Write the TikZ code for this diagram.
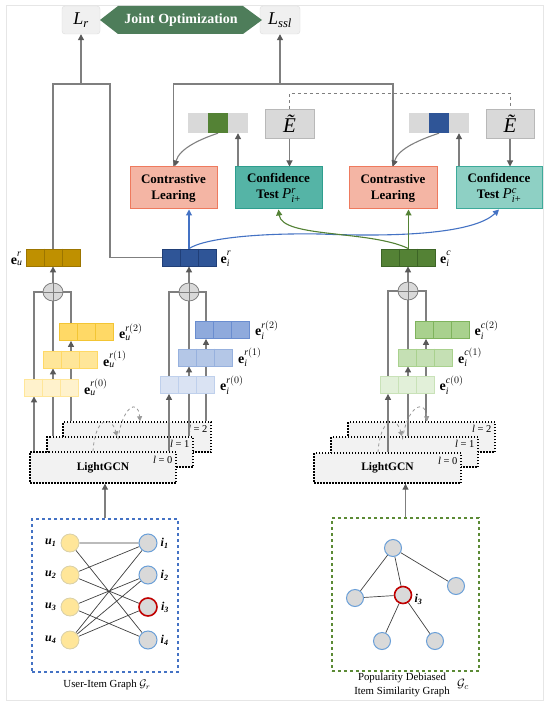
\documentclass[tikz,border=0pt]{standalone}
\usepackage{amsmath}
\usepackage{fontspec}
\setmainfont{Liberation Serif}
\usetikzlibrary{arrows.meta,calc,shapes.geometric}
\pgfdeclarelayer{lgcn}
\pgfdeclarelayer{bg}
\pgfsetlayers{lgcn,bg,main}

\definecolor{lineg}{HTML}{7F7F7F}
\definecolor{tipg}{HTML}{595959}
\definecolor{framec}{HTML}{E6E6E6}
\definecolor{clfill}{HTML}{F4B5A4}
\definecolor{clborder}{HTML}{EE7A5E}
\definecolor{ctafill}{HTML}{55B4A6}
\definecolor{ctaborder}{HTML}{2E9E8E}
\definecolor{ctbfill}{HTML}{8ED0C4}
\definecolor{ctbborder}{HTML}{3DAA9A}
\definecolor{jointc}{HTML}{4E7D5A}
\definecolor{lossfill}{HTML}{F0F0F0}
\definecolor{lossdraw}{HTML}{DDDDDD}
\definecolor{cellgray}{HTML}{D9D9D9}
\definecolor{goldF}{HTML}{BF9000}\definecolor{goldB}{HTML}{9C7500}
\definecolor{blueF}{HTML}{2F5597}\definecolor{blueB}{HTML}{203F78}
\definecolor{greenF}{HTML}{548235}\definecolor{greenB}{HTML}{3D6526}
\definecolor{ytwoF}{HTML}{FFD966}\definecolor{ytwoB}{HTML}{F3C534}
\definecolor{yoneF}{HTML}{FFE699}\definecolor{yoneB}{HTML}{FFD966}
\definecolor{yzeroF}{HTML}{FFF2CC}\definecolor{yzeroB}{HTML}{FFE699}
\definecolor{btwoF}{HTML}{8FAADC}\definecolor{btwoB}{HTML}{6A8DCF}
\definecolor{boneF}{HTML}{B4C7E7}\definecolor{boneB}{HTML}{97B1DE}
\definecolor{bzeroF}{HTML}{DAE3F3}\definecolor{bzeroB}{HTML}{BFD0EC}
\definecolor{gtwoF}{HTML}{A9D18E}\definecolor{gtwoB}{HTML}{7FB35D}
\definecolor{goneF}{HTML}{C5E0B4}\definecolor{goneB}{HTML}{A9D18E}
\definecolor{gzeroF}{HTML}{E2F0D9}\definecolor{gzeroB}{HTML}{C9E2B8}
\definecolor{lgfill}{HTML}{F2F2F2}
\definecolor{dashblue}{HTML}{4472C4}
\definecolor{dashgreen}{HTML}{5B8A35}
\definecolor{ufill}{HTML}{FFE699}\definecolor{udraw}{HTML}{D9D0A8}
\definecolor{ifill}{HTML}{D9D9D9}\definecolor{idraw}{HTML}{6A9FD8}
\definecolor{redn}{HTML}{C00000}
\definecolor{edgec}{HTML}{404040}
\definecolor{curveblue}{HTML}{4472C4}
\definecolor{curvegreen}{HTML}{548235}

\tikzset{
  conn/.style={draw=lineg, line width=1.1pt},
  arr/.style={conn, -{Triangle[length=6pt,width=6pt,color=tipg]}},
  bluearr/.style={draw=curveblue, line width=1.1pt, -{Triangle[length=6pt,width=6pt]}},
  greenarr/.style={draw=curvegreen, line width=1.1pt, -{Triangle[length=6pt,width=6pt]}},
  dasharr/.style={draw=lineg!80, dashed, line width=0.8pt, -{Triangle[length=5pt,width=5pt]}},
  lossbox/.style={draw=lossdraw, fill=lossfill, rounded corners=3pt, minimum width=38pt, minimum height=28pt, inner sep=0pt},
  clbox/.style={draw=clborder, fill=clfill, line width=1pt, minimum width=87pt, minimum height=42pt, align=center, font=\fontsize{13}{16}\selectfont\bfseries, inner sep=0pt},
  ctbox/.style={line width=1pt, minimum width=87pt, minimum height=42pt, align=center, font=\fontsize{13}{16}\selectfont\bfseries, inner sep=0pt},
  cellbox/.style={minimum width=20pt, minimum height=20pt, inner sep=0pt, fill=cellgray},
  etbox/.style={draw=cellgray!85!black, fill=cellgray, minimum width=49pt, minimum height=29pt, inner sep=0pt, line width=0.5pt},
  emb/.style={line width=0.8pt, minimum width=54pt, minimum height=17pt, inner sep=0pt},
  elabel/.style={font=\fontsize{14}{14}\selectfont, inner sep=1pt},
  sumc/.style={ellipse, draw=lineg, fill=cellgray, line width=0.8pt, minimum width=20pt, minimum height=18pt, inner sep=0pt},
  lgbox/.style={draw=black, fill=lgfill, line width=1.4pt, dash pattern=on 1.5pt off 1.5pt, minimum width=146pt, minimum height=30pt, inner sep=0pt},
  llabel/.style={font=\fontsize{10.5}{10.5}\selectfont, anchor=east, inner sep=0pt},
  unode/.style={circle, fill=ufill, draw=udraw, line width=0.8pt, minimum size=18pt, inner sep=0pt},
  inode/.style={circle, fill=ifill, draw=idraw, line width=1pt, minimum size=18pt, inner sep=0pt},
  rnode/.style={circle, fill=ifill, draw=redn, line width=1.6pt, minimum size=18pt, inner sep=0pt},
  gedge/.style={draw=edgec, line width=0.7pt},
  glabel/.style={font=\fontsize{12}{12}\selectfont\bfseries\itshape, inner sep=1pt},
  caption/.style={font=\fontsize{10.8}{14}\selectfont, align=center, inner sep=0pt}
}

\newcommand{\mkcells}[2]{\draw[#2, line width=0.7pt] ($(#1.north west)!1/3!(#1.north east)$) -- ($(#1.south west)!1/3!(#1.south east)$) ($(#1.north west)!2/3!(#1.north east)$) -- ($(#1.south west)!2/3!(#1.south east)$);}
\newcommand{\embrow}[5]{\node[emb, fill=#4, draw=#5] (#1) at (#2,#3) {}; \mkcells{#1}{#5}}
\newcommand{\pconf}[1]{{\fontsize{15}{15}\selectfont\mdseries$\textit{P}^{\textit{#1}}_{\textit{i}\textrm{+}}$}}
\newcommand{\evec}[2]{\textbf{e}$^{#1}_{\textit{#2}}$}

\begin{document}
\begin{tikzpicture}[x=1pt,y=-1pt]
\useasboundingbox (0,0) rectangle (550,708);
\begin{pgfonlayer}{lgcn}
\fill[white] (0,0) rectangle (550,708);
\draw[framec, line width=0.8pt] (6,5) rectangle (543,700);
\end{pgfonlayer}

% ---------- top ----------
\node[lossbox] (Lr) at (81,20) {\fontsize{18}{18}\selectfont\textit{L}$_{\textit{r}}$};
\node[lossbox, minimum width=40pt] (Lssl) at (280,20) {\fontsize{18}{18}\selectfont\textit{L}$_{\textit{ssl}}$};
\fill[jointc] (100,20) -- (118,6) -- (243,6) -- (262,20) -- (243,34) -- (118,34) -- cycle;
\node[text=white, font=\fontsize{14}{14}\selectfont\bfseries] (joint) at (181,20) {Joint Optimization};

% ---------- learning boxes ----------
\node[clbox] (CL1) at (173.5,188) {Contrastive\\Learing};
\node[ctbox, draw=ctaborder, fill=ctafill] (CT1) at (278.5,188) {Confidence\\Test \pconf{r}};
\node[clbox, minimum width=88pt] (CL2) at (393,188) {Contrastive\\Learing};
\node[ctbox, draw=ctbborder, fill=ctbfill, minimum width=86pt] (CT2) at (499,188) {Confidence\\Test \pconf{c}};

% cells and E tilde
\node[cellbox] (c1l) at (198,123) {};
\node[cellbox, fill=greenF] (c1m) at (218,123) {};
\node[cellbox] (c1r) at (238,123) {};
\node[etbox] (Et1) at (289.5,123.5) {\fontsize{21}{21}\selectfont\textit{Ẽ}};
\node[cellbox] (c2l) at (419,123) {};
\node[cellbox, fill=blueF] (c2m) at (439,123) {};
\node[cellbox] (c2r) at (459,123) {};
\node[etbox, minimum width=48pt] (Et2) at (510,123.5) {\fontsize{21}{21}\selectfont\textit{Ẽ}};

% ---------- final embeddings ----------
\embrow{eu}{53}{257.5}{goldF}{goldB}
\embrow{ei}{189}{257.5}{blueF}{blueB}
\embrow{ec}{408.5}{257.5}{greenF}{greenB}
\node[elabel, anchor=east, xshift=-2pt] (eulab) at (eu.west) {\evec{\textit{r}\vphantom{(}}{u}};
\node[elabel, anchor=west, xshift=3pt] (eilab) at (ei.east) {\evec{\textit{r}\vphantom{(}}{i}};
\node[elabel, anchor=west, xshift=3pt] (eclab) at (ec.east) {\evec{\textit{c}\vphantom{(}}{i}};

% sum circles
\node[sumc] (sL) at (53,292) {};
\node[sumc] (sM) at (189,292) {};
\node[sumc] (sR) at (408,291) {};
\foreach \s in {sL,sM,sR}{\draw[conn, line width=0.9pt] (\s.north) -- (\s.south) (\s.west) -- (\s.east);}

% layer embeddings
\embrow{eutwo}{86.5}{332}{ytwoF}{ytwoB}
\embrow{euone}{70.5}{359.5}{yoneF}{yoneB}
\embrow{euzero}{51.5}{387.5}{yzeroF}{yzeroB}
\embrow{eitwo}{222.5}{330}{btwoF}{btwoB}
\embrow{eione}{205.5}{357.5}{boneF}{boneB}
\embrow{eizero}{187.5}{385}{bzeroF}{bzeroB}
\embrow{ectwo}{442}{330}{gtwoF}{gtwoB}
\embrow{econe}{425.5}{357.5}{goneF}{goneB}
\embrow{eczero}{407}{385}{gzeroF}{gzeroB}
\node[elabel, anchor=west, xshift=4pt] (l1) at (eutwo.east) {\evec{\textit{r}(2)}{u}};
\node[elabel, anchor=west, xshift=4pt] (l2) at (euone.east) {\evec{\textit{r}(1)}{u}};
\node[elabel, anchor=west, xshift=4pt] (l3) at (euzero.east) {\evec{\textit{r}(0)}{u}};
\node[elabel, anchor=west, xshift=4pt] (l4) at (eitwo.east) {\evec{\textit{r}(2)}{i}};
\node[elabel, anchor=west, xshift=4pt] (l5) at (eione.east) {\evec{\textit{r}(1)}{i}};
\node[elabel, anchor=west, xshift=4pt] (l6) at (eizero.east) {\evec{\textit{r}(0)}{i}};
\node[elabel, anchor=west, xshift=4pt] (l7) at (ectwo.east) {\evec{\textit{c}(2)}{i}};
\node[elabel, anchor=west, xshift=4pt] (l8) at (econe.east) {\evec{\textit{c}(1)}{i}};
\node[elabel, anchor=west, xshift=4pt] (l9) at (eczero.east) {\evec{\textit{c}(0)}{i}};

% ---------- LightGCN ----------
\begin{pgfonlayer}{lgcn}
\node[lgbox, minimum width=148pt] (g2) at (137,437) {};
\node[llabel] (lg2) at ([xshift=-4pt,yshift=-8pt]g2.north east) {\textit{l} = 2};
\node[lgbox] (g1) at (120,452) {};
\node[llabel] (lg1) at ([xshift=-4pt,yshift=-8pt]g1.north east) {\textit{l} = 1};
\node[lgbox, minimum height=31pt] (g0) at (103,467.5) {};
\node[llabel] (lg0) at ([xshift=-4pt,yshift=-9pt]g0.north east) {\textit{l} = 0};
\node[font=\fontsize{11.5}{11.5}\selectfont\bfseries] (gt) at (g0.center) {LightGCN};
\node[lgbox, minimum width=147pt] (h2) at (421.5,437) {};
\node[llabel] (lh2) at ([xshift=-4pt,yshift=-8pt]h2.north east) {\textit{l} = 2};
\node[lgbox, minimum width=147pt] (h1) at (404.5,452) {};
\node[llabel] (lh1) at ([xshift=-4pt,yshift=-8pt]h1.north east) {\textit{l} = 1};
\node[lgbox, minimum width=147pt] (h0) at (387.5,468) {};
\node[llabel] (lh0) at ([xshift=-4pt,yshift=-9pt]h0.north east) {\textit{l} = 0};
\node[font=\fontsize{11.5}{11.5}\selectfont\bfseries] (ht) at (h0.center) {LightGCN};
\end{pgfonlayer}

\draw[dasharr] ([xshift=-10pt]g0.north) .. controls +(2,-34) and +(-6,-22) .. ([xshift=-3pt]g1.north);
\draw[dasharr] ([xshift=-2pt,yshift=-3pt]g1.north) .. controls +(4,-32) and +(-2,-24) .. ([xshift=3pt]g2.north);
\draw[dasharr] ([xshift=-9.5pt]h0.north) .. controls +(2,-34) and +(-6,-22) .. ([xshift=-2.5pt]h1.north);
\draw[dasharr] ([xshift=-2pt,yshift=-3pt]h1.north) .. controls +(4,-32) and +(-2,-24) .. ([xshift=5.5pt]h2.north);

% ---------- graphs ----------
\node[draw=dashblue, dashed, line width=1.2pt, minimum width=146pt, minimum height=153pt, inner sep=0pt] (GL) at (105,595.5) {};
\node[draw=dashgreen, dashed, line width=1.2pt, minimum width=147pt, minimum height=153pt, inner sep=0pt] (GR) at (405.5,594.5) {};

\node[unode] (u1) at (70,543) {};
\node[unode] (u2) at (70,575) {};
\node[unode] (u3) at (70,607) {};
\node[unode] (u4) at (70,640) {};
\node[inode] (i1) at (148,543) {};
\node[inode] (i2) at (148,575) {};
\node[rnode] (i3) at (148,607) {};
\node[inode] (i4) at (148,640) {};
\foreach \k in {1,2,3,4}{
  \node[glabel, anchor=east] (ul\k) at ([xshift=-3pt]u\k.west) {u$_{\textbf{\k}}$};
  \node[glabel, anchor=west] (il\k) at ([xshift=2pt]i\k.east) {i$_{\textbf{\k}}$};
}
\begin{pgfonlayer}{bg}
\draw[gedge] (u1) -- (i1) (u1) -- (i4) (u2) -- (i1) (u2) -- (i3) (u3) -- (i2) (u3) -- (i4) (u4) -- (i1) (u4) -- (i2) (u4) -- (i3);
\end{pgfonlayer}
\node[caption] (capL) at (107,685) {User-Item Graph $\mathcal{G}_r$};

\node[inode, minimum size=17pt] (n1) at (393,548) {};
\node[inode, minimum size=17pt] (n2) at (456,586) {};
\node[inode, minimum size=17pt] (n3) at (355,598) {};
\node[rnode, minimum size=17pt] (nc) at (403,595) {};
\node[inode, minimum size=17pt] (n5) at (382,641) {};
\node[inode, minimum size=17pt] (n6) at (435,641) {};
\node[glabel, anchor=west] (ncl) at ([xshift=1pt,yshift=-4pt]nc.east) {i$_{\textbf{3}}$};
\begin{pgfonlayer}{bg}
\draw[gedge] (n1) -- (n3) (n1) -- (nc) (n1) -- (n2) (n3) -- (nc) (nc) -- (n5) (nc) -- (n6);
\end{pgfonlayer}
\node[caption] (capR) at (402,685) {Popularity Debiased\\Item Similarity Graph};
\node[font=\fontsize{13}{13}\selectfont, inner sep=0pt] (capG) at (463,684) {$\mathcal{G}_c$};

% ---------- connectors ----------
\begin{pgfonlayer}{bg}
\coordinate (ky) at (0,84);
\coordinate (kr) at (110,84);
\draw[conn] (eu.north) |- (kr) |- (ei.west);
\draw[arr] (Lr.south |- ky) -- (Lr.south);
\draw[conn] (CL1.north) -- (CL1.north |- ky) -- (CL2.north |- ky) -- (CL2.north);
\draw[arr] (Lssl.south |- ky) -- (Lssl.south);
\coordinate (dd) at (0,93);
\draw[conn, draw=lineg, line width=0.9pt, dashed] (Et1.north) -- (Et1.north |- dd) -- (Et2.north |- dd) -- (Et2.north);
\draw[arr] (Et1.south) -- (Et1.south |- CT1.north);
\draw[arr] (Et2.south) -- (Et2.south |- CT2.north);
\draw[arr] (c1r.south |- CT1.north) -- (c1r.south);
\draw[arr] (c2r.south |- CT2.north) -- (c2r.south);
\draw[arr] (c1m.south) .. controls +(-18,6) and +(5,-18) .. ([xshift=1pt]CL1.north);
\draw[arr] (c2m.south) .. controls +(-18,6) and +(5,-18) .. ([xshift=0pt]CL2.north);

% left stack
\coordinate (xa) at (34,0); \coordinate (xb) at (71,0);
\draw[arr] (g0.north -| xa) -- (euzero.south -| xa);
\draw[conn] (euzero.north -| xa) |- (sL.west);
\draw[arr] (g1.north -| sL) -- (euone.south -| sL);
\draw[conn] (euone.north -| sL) -- (sL.south);
\draw[arr] (sL.north) -- (eu.south);
\draw[arr] (g2.north -| xb) -- (eutwo.south -| xb);
\draw[conn] (eutwo.north -| xb) |- (sL.east);
% middle stack
\coordinate (xc) at (169,0); \coordinate (xd) at (206,0);
\draw[arr] (g0.north -| xc) -- (eizero.south -| xc);
\draw[conn] (eizero.north -| xc) |- (sM.west);
\draw[arr] (g1.north -| sM) -- (eione.south -| sM);
\draw[conn] (eione.north -| sM) -- (sM.south);
\draw[arr] (sM.north) -- (ei.south);
\draw[arr] (g2.north -| xd) -- (eitwo.south -| xd);
\draw[conn] (eitwo.north -| xd) |- (sM.east);
% right stack
\coordinate (xe) at (388,0); \coordinate (xf) at (426,0);
\draw[arr] (h0.north -| xe) -- (eczero.south -| xe);
\draw[conn] (eczero.north -| xe) |- (sR.west);
\draw[arr] (h1.north -| sR) -- (econe.south -| sR);
\draw[conn] (econe.north -| sR) -- (sR.south);
\draw[arr] (sR.north) -- (ec.south -| sR);
\draw[arr] (h2.north -| xf) -- (ectwo.south -| xf);
\draw[conn] (ectwo.north -| xf) |- (sR.east);

% graphs to LightGCN
\draw[arr] (GL.north) -- (GL.north |- g0.south);
\draw[arr] (GR.north) -- (GR.north |- h0.south);
\end{pgfonlayer}

% coloured arrows
\draw[bluearr] (ei.north) -- (ei.north |- CL1.south);
\draw[bluearr] (ei.north) .. controls (205,238) and (260,233) .. (320,234) .. controls (420,238) and (478,230) .. (CT2.south);
\draw[greenarr] (ec.north) -- (ec.north |- CL2.south);
\draw[greenarr] (ec.north) .. controls (370,230) and (282,238) .. (CT1.south);
\end{tikzpicture}
\end{document}
